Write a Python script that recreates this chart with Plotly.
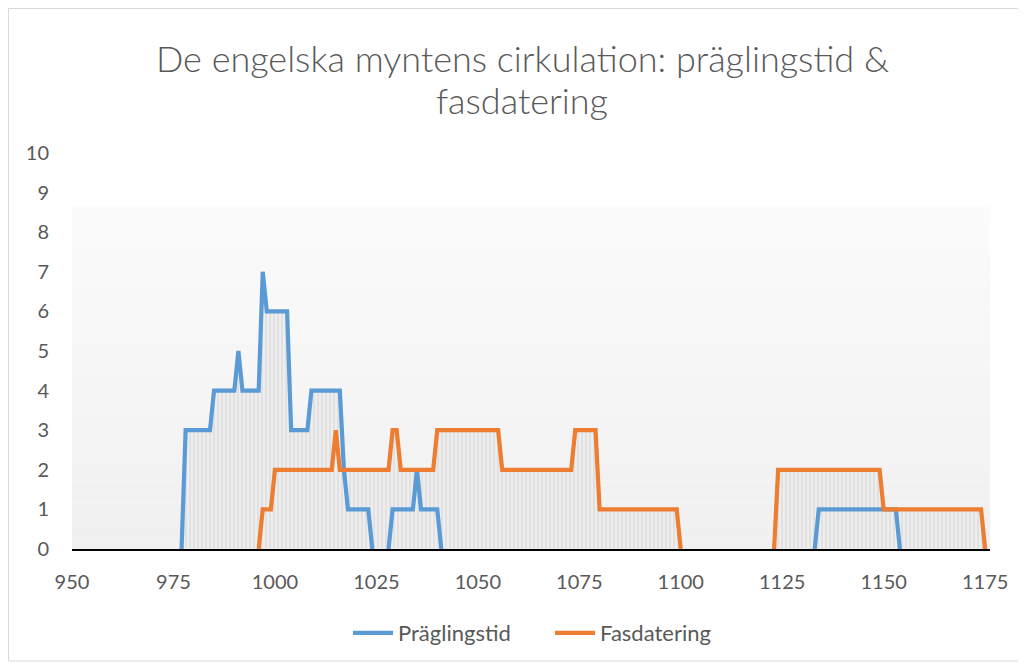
import plotly.graph_objects as go

# ---- data ----
title_lines = ["De engelska myntens cirkulation: präglingstid &", "fasdatering"]
series_names = ["Präglingstid", "Fasdatering"]

pregl_years = [977, 978, 984, 985, 990, 991, 992, 996, 997, 998, 1003, 1004, 1008, 1009,
               1016, 1017, 1018, 1023, 1024, None,
               1028, 1029, 1034, 1035, 1036, 1040, 1041, None,
               1133, 1134, 1153, 1154]
pregl_values = [0, 3, 3, 4, 4, 5, 4, 4, 7, 6, 6, 3, 3, 4,
                4, 2, 1, 1, 0, None,
                0, 1, 1, 2, 1, 1, 0, None,
                0, 1, 1, 0]

fas_years = [996, 997, 999, 1000, 1014, 1015, 1016, 1028, 1029, 1030, 1031, 1039, 1040,
             1055, 1056, 1073, 1074, 1079, 1080, 1099, 1100, None,
             1123, 1124, 1149, 1150, 1174, 1175]
fas_values = [0, 1, 1, 2, 2, 3, 2, 2, 3, 3, 2, 2, 3,
              3, 2, 2, 3, 3, 1, 1, 0, None,
              0, 2, 2, 1, 1, 0]

x_ticks = [950, 975, 1000, 1025, 1050, 1075, 1100, 1125, 1150, 1175]
y_ticks = list(range(0, 11))

colors = ["#5B9BD5", "#ED7D31"]
text_color = "#595959"
font_family = "Lato, 'Open Sans', sans-serif"

fig = go.Figure()

# drop-line style fill (vertical stripes) under each series
for xs, ys in [(pregl_years, pregl_values), (fas_years, fas_values)]:
    fig.add_trace(go.Scatter(
        x=xs, y=ys, mode="lines", line=dict(width=0, color="rgba(0,0,0,0)"),
        fill="tozeroy", fillcolor="rgba(0,0,0,0)",
        fillpattern=dict(shape="|", fgcolor="#d0d0d0", bgcolor="#eeeeee",
                         size=4, solidity=0.45),
        showlegend=False, hoverinfo="skip"))

for name, xs, ys, c in [(series_names[0], pregl_years, pregl_values, colors[0]),
                        (series_names[1], fas_years, fas_values, colors[1])]:
    fig.add_trace(go.Scatter(x=xs, y=ys, mode="lines", name=name,
                             line=dict(color=c, width=4.2)))

# screen geometry of the plot area (page has an 8px body margin)
PX0, PX1, PY0, PY1 = 72, 990, 153, 549
PW, PH = PX1 - PX0, PY1 - PY0

def px(x):
    return (x - PX0) / PW

def py(y):
    return (PY1 - y) / PH

# plot-area gradient background (approximation with bands)
shapes = []
top_val = 8.64
n = 30
for i in range(n):
    y0 = top_val * i / n
    y1 = top_val * (i + 1) / n
    t = i / (n - 1)
    g = int(round(240 + (251 - 240) * t))
    shapes.append(dict(type="rect", xref="x", yref="y", x0=950, x1=1176.2, y0=y0, y1=y1,
                       fillcolor=f"rgb({g},{g},{g})", line=dict(width=0), layer="below"))
# chart border
shapes.append(dict(type="rect", xref="paper", yref="paper", x0=px(8.5), x1=px(1023),
                   y0=py(661), y1=py(8.5),
                   line=dict(color="#d9d9d9", width=1), fillcolor="rgba(0,0,0,0)", layer="below"))

annotations = [
    dict(text=title_lines[0], xref="paper", yref="paper", x=px(522), y=py(58),
         xanchor="center", yanchor="middle", showarrow=False,
         font=dict(family=font_family, size=36, color=text_color, weight=300)),
    dict(text=title_lines[1], xref="paper", yref="paper", x=px(522), y=py(100),
         xanchor="center", yanchor="middle", showarrow=False,
         font=dict(family=font_family, size=36, color=text_color, weight=300)),
]

fig.update_layout(
    width=1026, height=666,
    margin=dict(l=PX0 - 8, r=1026 - (PX1 - 8), t=PY0 - 8, b=666 - (PY1 - 8)),
    paper_bgcolor="white", plot_bgcolor="white",
    shapes=shapes, annotations=annotations,
    legend=dict(orientation="h", x=px(550), xanchor="center", y=py(633), yanchor="middle",
                font=dict(family=font_family, size=22, color=text_color),
                itemwidth=40, entrywidth=147, entrywidthmode="pixels",
                traceorder="normal"),
    xaxis=dict(range=[950, 1176.2], tickvals=x_ticks, ticktext=[str(v) for v in x_ticks],
               showgrid=False, zeroline=False, showline=True, linecolor="#000000", linewidth=2,
               ticks="", ticklabelstandoff=14,
               tickfont=dict(family=font_family, size=20, color=text_color)),
    yaxis=dict(range=[0, 10], tickvals=y_ticks, showgrid=False, zeroline=False, showline=False,
               ticks="", ticklabelstandoff=22,
               tickfont=dict(family=font_family, size=20, color=text_color)),
)

fig.write_html("out.html")
